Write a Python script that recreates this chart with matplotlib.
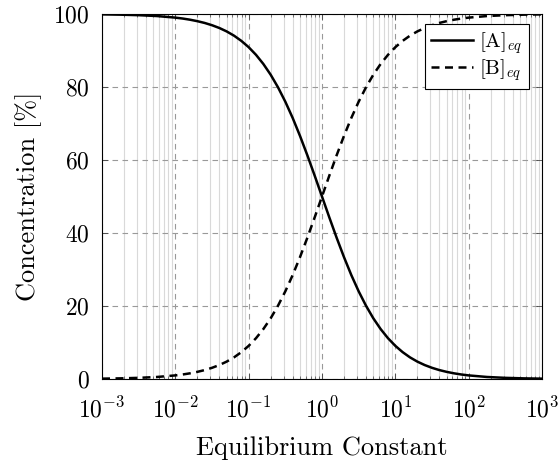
import numpy as np
import matplotlib
matplotlib.use("Agg")
import matplotlib.pyplot as plt
from matplotlib.ticker import LogLocator, NullFormatter

# equilibrium constant K and concentrations
K = [1e-3, 10**-2.75, 10**-2.5, 10**-2.25, 1e-2,
     10**-1.9, 10**-1.8, 10**-1.7, 10**-1.6, 10**-1.5, 10**-1.4, 10**-1.3, 10**-1.2, 10**-1.1, 1e-1,
     10**-0.9, 10**-0.8, 10**-0.7, 10**-0.6, 10**-0.5, 10**-0.4, 10**-0.3, 10**-0.2, 10**-0.1, 1.0,
     10**0.1, 10**0.2, 10**0.3, 10**0.4, 10**0.5, 10**0.6, 10**0.7, 10**0.8, 10**0.9, 1e1,
     10**1.1, 10**1.2, 10**1.3, 10**1.4, 10**1.5, 10**1.6, 10**1.7, 10**1.8, 10**1.9, 1e2,
     10**2.25, 10**2.5, 10**2.75, 1e3]
conc_A = [99.90, 99.82, 99.68, 99.44, 99.01,
          98.76, 98.44, 98.04, 97.55, 96.93, 96.17, 95.23, 94.07, 92.64, 90.91,
          88.82, 86.32, 83.37, 79.92, 75.97, 71.53, 66.61, 61.31, 55.73, 50.00,
          44.27, 38.69, 33.39, 28.47, 24.03, 20.08, 16.63, 13.68, 11.18, 9.09,
          7.36, 5.93, 4.77, 3.83, 3.07, 2.45, 1.96, 1.56, 1.24, 0.99,
          0.56, 0.32, 0.18, 0.10]
conc_B = [0.10, 0.18, 0.32, 0.56, 0.99,
          1.24, 1.56, 1.96, 2.45, 3.07, 3.83, 4.77, 5.93, 7.36, 9.09,
          11.18, 13.68, 16.63, 20.08, 24.03, 28.47, 33.39, 38.69, 44.27, 50.00,
          55.73, 61.31, 66.61, 71.53, 75.97, 79.92, 83.37, 86.32, 88.82, 90.91,
          92.64, 94.07, 95.23, 96.17, 96.93, 97.55, 98.04, 98.44, 98.76, 99.01,
          99.44, 99.68, 99.82, 99.90]
y_ticks = [0, 20, 40, 60, 80, 100]

plt.rcParams["font.family"] = "serif"
plt.rcParams["font.serif"] = ["cmr10", "DejaVu Serif"]
plt.rcParams["mathtext.fontset"] = "cm"
plt.rcParams["axes.formatter.use_mathtext"] = True

fig = plt.figure(figsize=(5.58, 4.67), dpi=100)
ax = fig.add_axes([0.1828, 0.1884, 0.7885, 0.7816])

ax.plot(K, conc_A, color="black", lw=1.8, label=r"[A]$_{eq}$")
ax.plot(K, conc_B, color="black", lw=1.8, ls=(0, (3.2, 2.2)), label=r"[B]$_{eq}$")

ax.set_xscale("log")
ax.set_xlim(1e-3, 1e3)
ax.set_ylim(0, 100)
ax.set_yticks(y_ticks)
ax.xaxis.set_major_locator(LogLocator(base=10, numticks=20))
ax.xaxis.set_minor_locator(LogLocator(base=10, subs=np.arange(2, 10), numticks=100))
ax.xaxis.set_minor_formatter(NullFormatter())

ax.grid(which="major", color="#999999", ls=(0, (5, 4)), lw=0.8)
ax.grid(which="minor", axis="x", color="#d9d9d9", ls="-", lw=0.8)
ax.set_axisbelow(True)

ax.tick_params(which="both", direction="in", top=True, right=True, labelsize=17)
ax.tick_params(axis="y", pad=9)
ax.tick_params(axis="x", pad=13)
ax.tick_params(which="major", length=4, width=0.6, color="#444444")
ax.tick_params(which="minor", length=2.5, width=0.5, color="#444444")
for s in ax.spines.values():
    s.set_linewidth(0.8)

ax.set_xlabel("Equilibrium Constant", fontsize=19, labelpad=10)
ax.set_ylabel("Concentration [%]", fontsize=19, labelpad=8)

leg = ax.legend(loc="upper right", bbox_to_anchor=(0.9705, 0.9726), borderaxespad=0,
                fontsize=15, fancybox=False, framealpha=1, edgecolor="black",
                handlelength=2.0, handletextpad=0.3, labelspacing=0.05, borderpad=0.3)
leg.get_frame().set_linewidth(0.8)

fig.savefig("out.png", dpi=100)
